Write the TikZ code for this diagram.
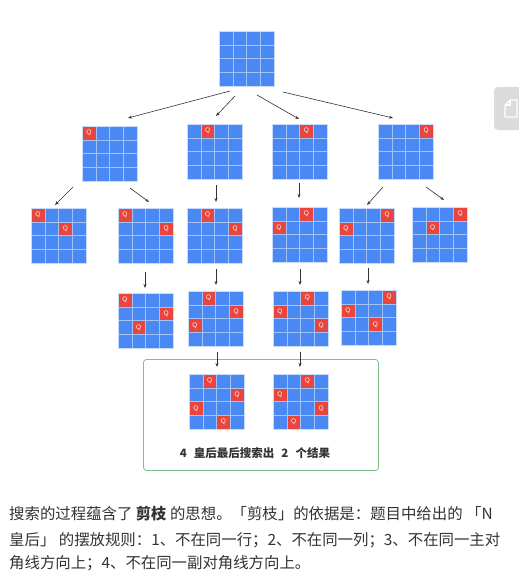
\documentclass[tikz,border=0pt]{standalone}
\usepackage{fontspec}
\setmainfont{Liberation Sans}
\newfontfamily\cjk{Noto Sans CJK SC}
\usetikzlibrary{arrows.meta,calc}
\definecolor{qblue}{HTML}{4A89F3}
\definecolor{qred}{HTML}{E8453C}
\definecolor{qgrid}{HTML}{A3C2F7}
\definecolor{qedge}{HTML}{C9DBFB}
\definecolor{qgreen}{HTML}{7FC08A}
\definecolor{txt}{HTML}{333333}
\tikzset{
  board/.style={rectangle, minimum size=55pt, inner sep=0pt, outer sep=0pt, fill=qblue, draw=none},
  qlab/.style={text=white, inner sep=0pt, font=\fontsize{6.5}{6.5}\selectfont},
  gridl/.style={draw=qgrid, line width=0.5pt},
  arr/.style={draw=txt, line width=0.6pt, -{Stealth[length=4pt,width=3pt]}},
  para/.style={anchor=west, inner sep=0pt, text=txt, font=\cjk\fontsize{15.4}{18}\selectfont},
}
\newcommand{\qgridlines}[1]{%
  \foreach \i in {1,2,3}{%
    \draw[gridl] ($(#1.north west)+(\i*13.75,0)$) -- ++(0,55);
    \draw[gridl] ($(#1.north west)+(0,\i*13.75)$) -- ++(55,0);
  }%
  \draw[qedge, line width=0.5pt] (#1.north west) rectangle (#1.south east);
}
\newcommand{\eboard}[3]{%
  \node[board] (#1) at (#2+27.5,#3+27.5) {};
  \qgridlines{#1}%
}
\newcommand{\qboard}[4]{%
  \node[board] (#1) at (#2+27.5,#3+27.5) {};
  \foreach \r/\c in {#4}{%
    \fill[qred] ($(#1.north west)+(\c*13.75,\r*13.75)$) rectangle +(13.75,13.75);
    \node[qlab] (#1-q\r\c) at ($(#1.north west)+(\c*13.75+6.875,\r*13.75+6.875)$) {Q};
  }%
  \qgridlines{#1}%
}
\begin{document}
\begin{tikzpicture}[x=1pt, y=-1pt]
\useasboundingbox (0,0) rectangle (519,581);
\fill[white] (0,0) rectangle (519,581);

% side tab
\fill[black!14, rounded corners=4pt] (494,87) rectangle (530,130);
\draw[white, line width=1.1pt, line join=round] (505,105) -- (510,100) -- (517,100) -- (517,117) -- (505,117) -- cycle;
\draw[white, line width=1.1pt, line join=round] (505,105) -- (510,105) -- (510,100);

% green result frame
\node[draw=qgreen, line width=0.8pt, rounded corners=3pt, minimum width=235pt, minimum height=111pt, inner sep=0pt] (res) at (261,415) {};

% boards
\eboard{top}{219}{31}
\qboard{b1}{82}{126}{0/0}
\qboard{b2}{187}{124}{0/1}
\qboard{b3}{272}{124}{0/2}
\qboard{b4}{378}{124}{0/3}

\qboard{c1}{31}{208}{0/0,1/2}
\qboard{c2}{118}{208}{0/0,1/3}
\qboard{c3}{187}{208}{0/1,1/3}
\qboard{c4}{272}{207}{0/2,1/0}
\qboard{c5}{339}{208}{0/3,1/0}
\qboard{c6}{412}{207}{0/3,1/1}

\qboard{d1}{118}{293}{0/0,1/3,2/1}
\qboard{d2}{188}{291}{0/1,1/3,2/0}
\qboard{d3}{273}{291}{0/2,1/0,2/3}
\qboard{d4}{341}{290}{0/3,1/0,2/2}

\qboard{e1}{189}{374}{0/1,1/3,2/0,3/2}
\qboard{e2}{273}{374}{0/2,1/0,2/3,3/1}

% arrows
\draw[arr] ([shift={(11,5)}]top.south west) -- ([shift={(46,-8)}]b1.north west);
\draw[arr] ([shift={(16,10)}]top.south west) -- ([shift={(29,-8)}]b2.north west);
\draw[arr] ([shift={(38,9)}]top.south west) -- ([shift={(27,-5)}]b3.north west);
\draw[arr] ([shift={(64,6)}]top.south west) -- ([shift={(15,-6)}]b4.north west);

\draw[arr] ([shift={(-9,6)}]b1.south west) -- ([shift={(24,-3)}]c1.north west);
\draw[arr] ([shift={(48,7)}]b1.south west) -- ([shift={(31,-6)}]c2.north west);
\draw[arr] ([shift={(29,6)}]b2.south west) -- ([shift={(29,-6)}]c3.north west);
\draw[arr] ([shift={(27,4)}]b3.south west) -- ([shift={(27,-9)}]c4.north west);
\draw[arr] ([shift={(5,8)}]b4.south west) -- ([shift={(28,-3)}]c5.north west);
\draw[arr] ([shift={(48,8)}]b4.south west) -- ([shift={(32,-7)}]c6.north west);

\draw[arr] ([shift={(27,9)}]c2.south west) -- ([shift={(27,-5)}]d1.north west);
\draw[arr] ([shift={(29,6)}]c3.south west) -- ([shift={(28,-6)}]d2.north west);
\draw[arr] ([shift={(28,7)}]c4.south west) -- ([shift={(27,-6)}]d3.north west);
\draw[arr] ([shift={(29,5)}]c5.south west) -- ([shift={(27,-6)}]d4.north west);

\draw[arr] ([shift={(29,6)}]d2.south west) -- ([shift={(28,-7)}]e1.north west);
\draw[arr] ([shift={(27,6)}]d3.south west) -- ([shift={(27,-7)}]e2.north west);

% result caption
\node[inner sep=0pt, text=txt, font=\cjk\bfseries\fontsize{11.5}{13}\selectfont] (restext) at (255,453) {4\hspace{7pt}皇后最后搜索出\hspace{7pt}2\hspace{7pt}个结果};

% paragraph
\node[para] (l1) at (9,514) {搜索的过程蕴含了 \textbf{剪枝} 的思想。「剪枝」的依据是：题目中给出的 「N};
\node[para] (l2) at (9,540) {皇后」 的摆放规则：1、不在同一行；2、不在同一列；3、不在同一主对};
\node[para] (l3) at (9,563) {角线方向上；4、不在同一副对角线方向上。};
\end{tikzpicture}
\end{document}
